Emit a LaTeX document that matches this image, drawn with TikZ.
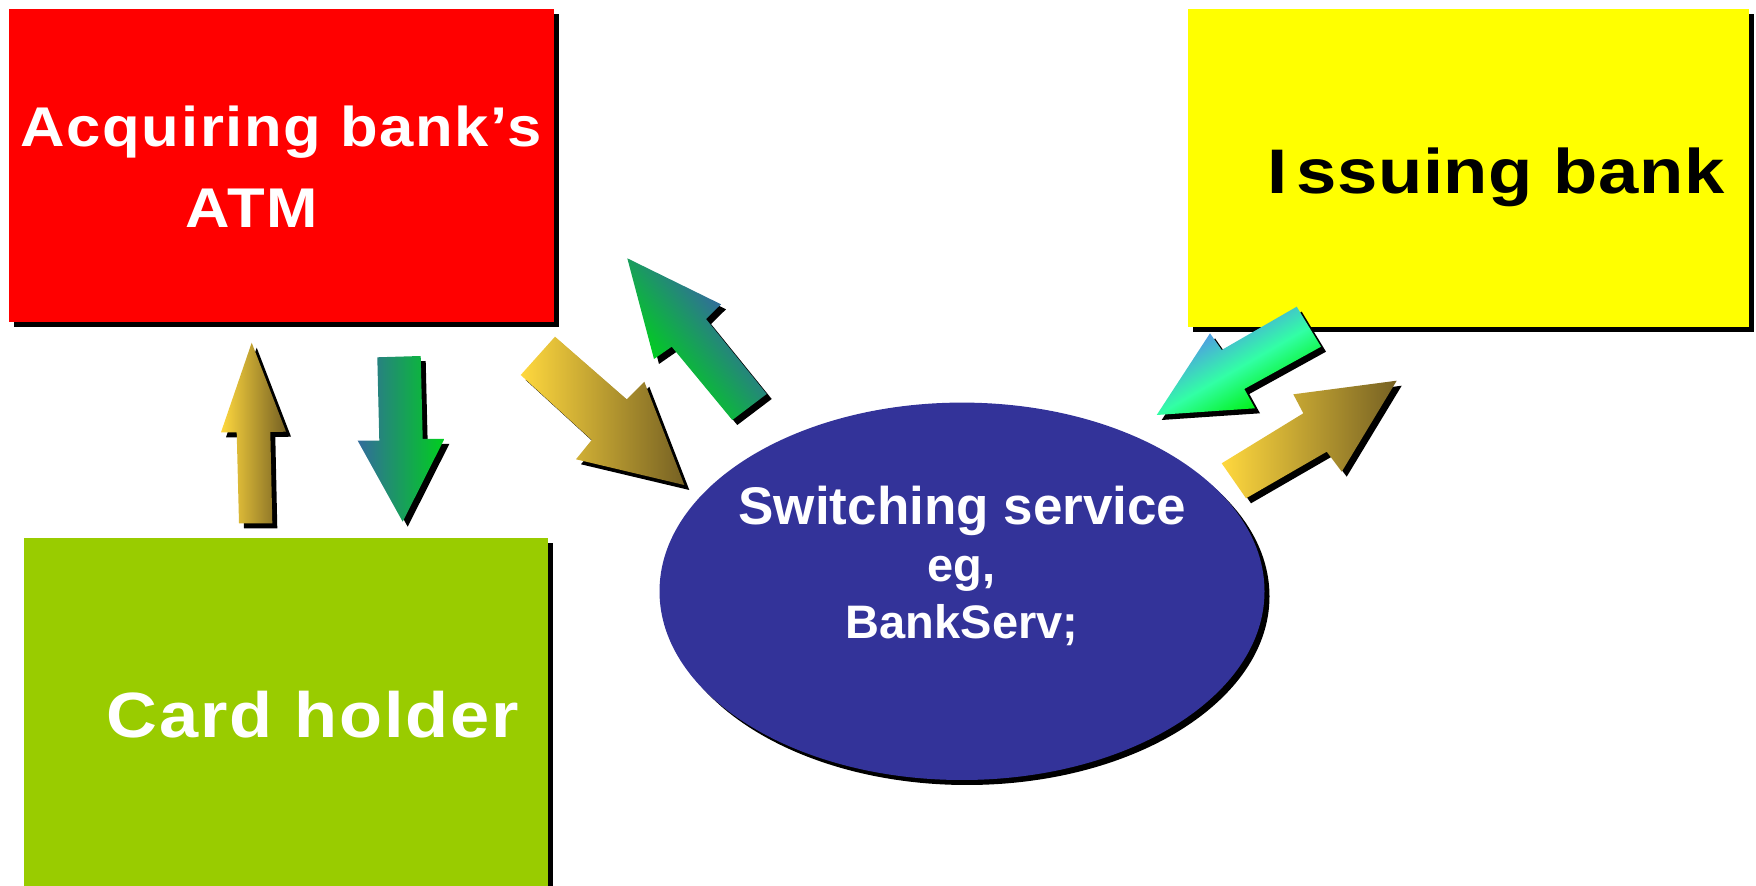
\documentclass[tikz,border=0pt]{standalone}
\usepackage{fontspec}
\setmainfont{Liberation Sans}
\newfontfamily\boxfont[FakeStretch=1.1,LetterSpace=3]{Liberation Sans}
\newfontfamily\issuefont[FakeStretch=1.15,LetterSpace=1]{Liberation Sans}
\usetikzlibrary{shapes.geometric}

\definecolor{atmred}{HTML}{FF0000}
\definecolor{issyellow}{HTML}{FFFF00}
\definecolor{holdergreen}{HTML}{99CC00}
\definecolor{switchblue}{HTML}{333399}
\definecolor{goldA}{RGB}{255,216,62}
\definecolor{oliveB}{RGB}{118,97,35}
\definecolor{tealA}{RGB}{50,108,156}
\definecolor{leafB}{RGB}{0,206,30}
\definecolor{skyA}{RGB}{78,158,226}
\definecolor{aquaM}{RGB}{50,255,165}
\definecolor{limeB}{RGB}{0,240,20}

% block arrow: black drop shadow, then the body shaded over its bounding box
\newcommand\blockarrow[2]{%
  \fill[black, shift={(5,5)}] #2;
  \shade[#1] #2;}
% block arrow whose gradient runs across the arrow: a rotated band
% (#3, turned by #2) is shaded and clipped to the arrow outline #4
\newcommand\bandarrow[4]{%
  \fill[black, shift={(5,5)}] #4;
  \begin{scope}
    \clip #4;
    \shade[#1, transform canvas={rotate around={#2}}] #3;
  \end{scope}}

\begin{document}
\begin{tikzpicture}[x=0.5pt, y=-0.5pt,
  shadowed/.style={preaction={fill=black, transform canvas={shift={(2.5pt,-2.5pt)}}}},
  panel/.style={shadowed, rectangle, inner sep=0pt, outer sep=0pt},
  boxlabel/.style={anchor=base, inner sep=0pt},
  ovallabel/.style={anchor=base, inner sep=0pt, text=white,
    font=\bfseries\fontsize{26.5}{29}\selectfont},
  ovalsmall/.style={ovallabel, font=\bfseries\fontsize{23.5}{27}\selectfont},
  goldarrow/.style={left color=goldA, right color=oliveB}]

\useasboundingbox (0,0) rectangle (1756,886);
\clip (0,0) rectangle (1756,886);

% the three parties
\node[panel, fill=atmred, minimum width=272.5pt, minimum height=156.5pt]
  (atm) at (281.5,165.5) {};
\node[panel, fill=issyellow, minimum width=280.5pt, minimum height=159pt]
  (issuer) at (1468.5,168) {};
\node[panel, fill=holdergreen, minimum width=261.75pt, minimum height=176pt]
  (holder) at (285.75,714) {};

% the switch
\node[shadowed, ellipse, fill=switchblue, inner sep=0pt, outer sep=0pt,
  minimum width=302.5pt, minimum height=188.7pt] (switch) at (962,591.3) {};

% labels
\node[boxlabel, text=white, font=\boxfont\bfseries\fontsize{28}{34}\selectfont]
  (atmA) at (281,146.7) {Acquiring bank’s};
\node[boxlabel, text=white, font=\boxfont\bfseries\fontsize{28}{34}\selectfont]
  (atmB) at (252,227.7) {ATM};
\node[boxlabel, text=black, font=\issuefont\bfseries\fontsize{31.5}{36}\selectfont]
  (issuerlabel) at (1496,193.3) {I\kern4.5pt ssuing bank};
\node[boxlabel, text=white, font=\boxfont\bfseries\fontsize{32}{38}\selectfont]
  (holderlabel) at (313,737.3) {Card holder};

\node[ovallabel] (swA) at (962.5,525) {Switching service};
\node[ovalsmall] (swB) at (961.4,581.7) {eg,};
\node[ovalsmall] (swC) at (962,638.3) {BankServ;};

% card holder -> ATM
\blockarrow{goldarrow}{(251.7,342.7) -- (286,431.7) -- (270.3,432) -- (272.3,523.3)
  -- (239,523.3) -- (236.7,432.3) -- (221,432.3) -- cycle}
% ATM -> card holder
\blockarrow{left color=tealA, right color=leafB}{(377.3,357.3) -- (420.7,356)
  -- (422.7,439) -- (444.3,439) -- (402.7,521.7) -- (357.7,440.7) -- (379.3,440.7) -- cycle}
% ATM -> switch
\blockarrow{goldarrow}{(555,336.7) -- (626.7,399.3) -- (644.3,381.7) -- (684.3,485)
  -- (576,459.3) -- (591.7,440) -- (520.7,375) -- cycle}
% switch -> ATM
\bandarrow{top color=tealA, bottom color=leafB}{-50.6:(688.4,332.65)}
  {(558.4,288.65) rectangle (818.4,376.65)}
  {(627.3,258.3) -- (721,304.3) -- (706,319) -- (766.7,394) -- (732.3,420)
  -- (671.7,346.7) -- (654,359) -- cycle}
% issuer -> switch
\bandarrow{top color=skyA, bottom color=limeB, middle color=aquaM}{30:(1232.8,370.9)}
  {(1082.8,326.9) rectangle (1382.8,414.9)}
  {(1156.7,415) -- (1210,333.3) -- (1221.7,350) -- (1296.7,306.7) -- (1321,346.7)
  -- (1244.3,389) -- (1255,408.3) -- cycle}
% switch -> issuer
\blockarrow{goldarrow}{(1221.7,463.3) -- (1303.3,413.3) -- (1293.3,394.3)
  -- (1396.7,380.7) -- (1341.7,471.7) -- (1326.7,451.7) -- (1246,498.3) -- cycle}

\end{tikzpicture}
\end{document}
